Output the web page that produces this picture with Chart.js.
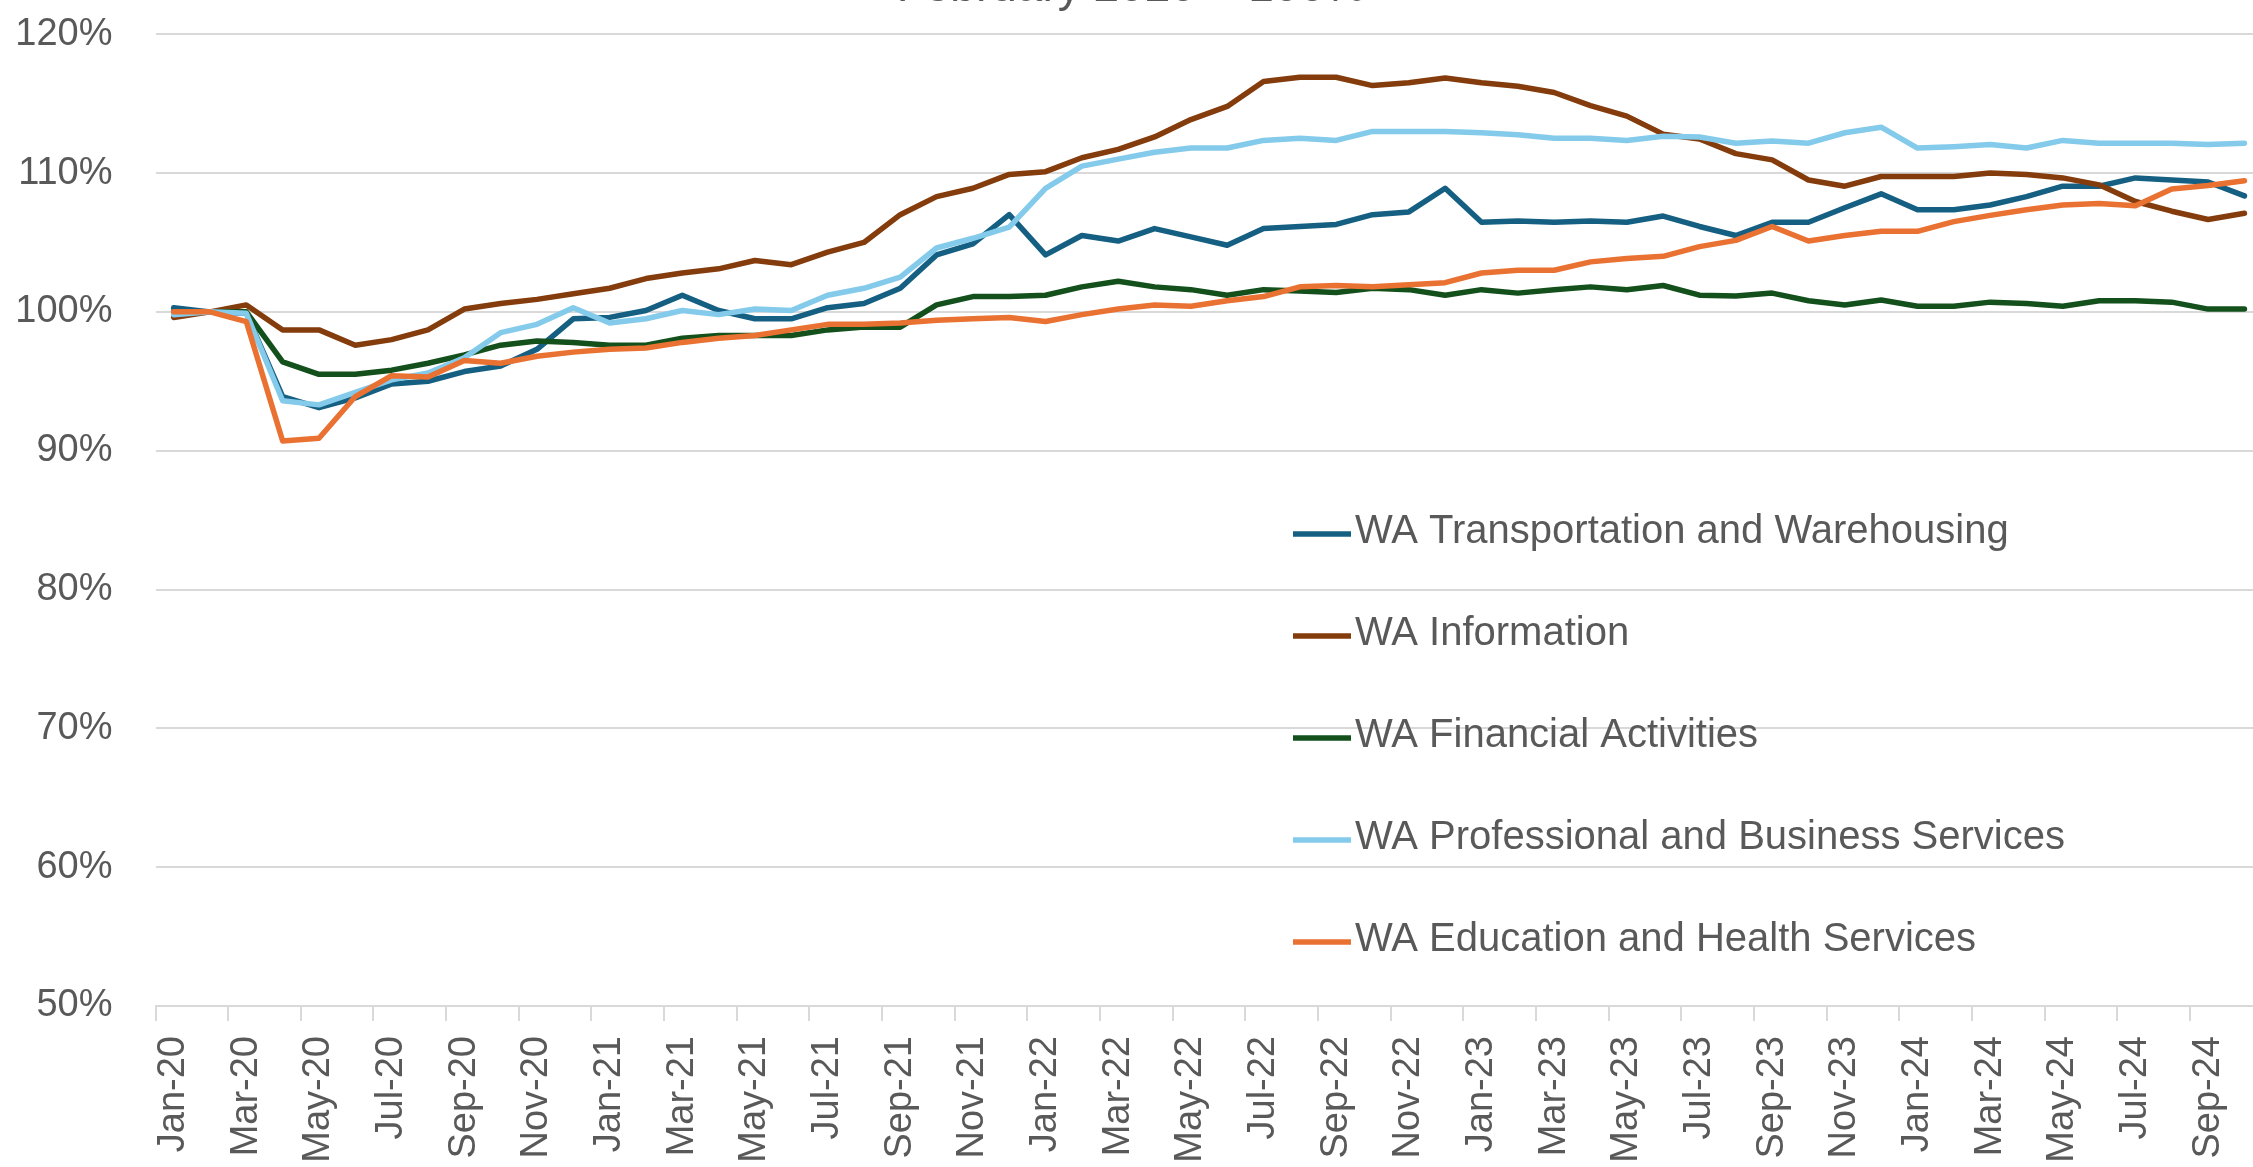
<!DOCTYPE html>
<html>
<head>
<meta charset="utf-8">
<title>WA employment by industry</title>
<script src="https://cdn.jsdelivr.net/npm/chart.js@4.4.1/dist/chart.umd.min.js"></script>
<style>
  html, body { margin: 0; padding: 0; background: #fff; overflow: hidden; }
  #wrap { position: absolute; left: 0; top: -60px; width: 2314px; height: 1227px; }
</style>
</head>
<body>
<div id="wrap"><canvas id="empChart" width="2314" height="1227"></canvas></div>
<script>
// months Jan-20 .. Oct-24, index Feb 2020 = 100%
const months = [
  'Jan-20','Feb-20','Mar-20','Apr-20','May-20','Jun-20','Jul-20','Aug-20','Sep-20','Oct-20','Nov-20','Dec-20',
  'Jan-21','Feb-21','Mar-21','Apr-21','May-21','Jun-21','Jul-21','Aug-21','Sep-21','Oct-21','Nov-21','Dec-21',
  'Jan-22','Feb-22','Mar-22','Apr-22','May-22','Jun-22','Jul-22','Aug-22','Sep-22','Oct-22','Nov-22','Dec-22',
  'Jan-23','Feb-23','Mar-23','Apr-23','May-23','Jun-23','Jul-23','Aug-23','Sep-23','Oct-23','Nov-23','Dec-23',
  'Jan-24','Feb-24','Mar-24','Apr-24','May-24','Jun-24','Jul-24','Aug-24','Sep-24','Oct-24'
];

var transportation = [
  100.3, 100.0, 99.9, 93.9, 93.1, 93.8, 94.8, 95.0, 95.7, 96.1, 97.3, 99.5,
  99.6, 100.1, 101.2, 100.1, 99.5, 99.5, 100.3, 100.6, 101.7, 104.1, 104.9, 107.0,
  104.1, 105.5, 105.1, 106.0, 105.4, 104.8, 106.0, 106.15, 106.3, 107.0, 107.2, 108.9,
  106.45, 106.55, 106.45, 106.55, 106.45, 106.9, 106.15, 105.5, 106.45, 106.45, 107.5, 108.5,
  107.35, 107.35, 107.7, 108.3, 109.05, 109.05, 109.65, 109.5, 109.35, 108.35
];
var information = [
  99.6, 100.0, 100.5, 98.7, 98.7, 97.6, 98.0, 98.7, 100.2, 100.6, 100.9, 101.3,
  101.7, 102.4, 102.8, 103.1, 103.7, 103.4, 104.3, 105.0, 107.0, 108.3, 108.9, 109.9,
  110.1, 111.1, 111.7, 112.6, 113.85, 114.8, 116.6, 116.9, 116.9, 116.3, 116.5, 116.85,
  116.5, 116.25, 115.8, 114.85, 114.1, 112.8, 112.45, 111.4, 110.95, 109.5, 109.05, 109.75,
  109.75, 109.75, 110.0, 109.9, 109.65, 109.15, 107.95, 107.25, 106.65, 107.1
];
var financial = [
  100.0, 100.0, 100.0, 96.4, 95.5, 95.5, 95.8, 96.3, 96.9, 97.6, 97.9, 97.8,
  97.6, 97.6, 98.1, 98.3, 98.3, 98.3, 98.7, 98.9, 98.9, 100.5, 101.1, 101.1,
  101.2, 101.8, 102.2, 101.8, 101.6, 101.2, 101.6, 101.5, 101.4, 101.7, 101.6, 101.2,
  101.6, 101.35, 101.6, 101.8, 101.6, 101.9, 101.2, 101.15, 101.35, 100.8, 100.5, 100.85,
  100.4, 100.4, 100.7, 100.6, 100.4, 100.8, 100.8, 100.7, 100.2, 100.2
];
var professional = [
  99.8, 100.0, 99.9, 93.6, 93.3, 94.2, 95.1, 95.6, 96.7, 98.5, 99.1, 100.3,
  99.2, 99.5, 100.1, 99.8, 100.2, 100.1, 101.2, 101.7, 102.5, 104.6, 105.3, 106.1,
  108.9, 110.5, 111.0, 111.5, 111.8, 111.8, 112.35, 112.5, 112.35, 113.0, 113.0, 113.0,
  112.9, 112.75, 112.5, 112.5, 112.35, 112.65, 112.6, 112.15, 112.3, 112.15, 112.9, 113.3,
  111.8, 111.9, 112.05, 111.8, 112.35, 112.15, 112.15, 112.15, 112.05, 112.15
];
var education = [
  100.0, 100.0, 99.3, 90.7, 90.9, 93.9, 95.4, 95.3, 96.5, 96.3, 96.8, 97.1,
  97.3, 97.4, 97.8, 98.1, 98.3, 98.7, 99.1, 99.1, 99.2, 99.4, 99.5, 99.6,
  99.3, 99.8, 100.2, 100.5, 100.4, 100.8, 101.1, 101.8, 101.9, 101.8, 101.95, 102.1,
  102.8, 103.0, 103.0, 103.6, 103.85, 104.0, 104.7, 105.15, 106.15, 105.1, 105.5, 105.8,
  105.8, 106.5, 106.95, 107.35, 107.7, 107.8, 107.65, 108.85, 109.1, 109.45
];

const seriesNames = [
  'WA Transportation and Warehousing',
  'WA Information',
  'WA Financial Activities',
  'WA Professional and Business Services',
  'WA Education and Health Services'
];
const seriesColors = ['#156082', '#843C0C', '#13501B', '#83CAEB', '#E97132'];
const seriesValues = [transportation, information, financial, professional, education];

const yTicks = [50, 60, 70, 80, 90, 100, 110, 120];

const FONT = '"Liberation Sans", Arial, sans-serif';
const GREY_TEXT = '#595959';
const GRID = '#d9d9d9';

// legend sits inside the plot, one entry per row
const insideLegend = {
  id: 'insideLegend',
  afterDraw(chart) {
    const ctx = chart.ctx;
    const x0 = 1293, lineLen = 58, gap = 4;
    const firstY = 592, rowStep = 102;
    ctx.save();
    ctx.font = '40px ' + FONT;
    ctx.textBaseline = 'middle';
    ctx.textAlign = 'left';
    chart.data.datasets.forEach((ds, i) => {
      const y = firstY + i * rowStep;
      ctx.strokeStyle = ds.borderColor;
      ctx.lineWidth = 5.5;
      ctx.lineCap = 'butt';
      ctx.beginPath();
      ctx.moveTo(x0, y + 2);
      ctx.lineTo(x0 + lineLen, y + 2);
      ctx.stroke();
      ctx.fillStyle = GREY_TEXT;
      ctx.fillText(ds.label, x0 + lineLen + gap, y);
    });
    ctx.restore();
  }
};

const datasets = seriesNames.map((name, i) => ({
  label: name,
  data: seriesValues[i],
  borderColor: seriesColors[i],
  backgroundColor: seriesColors[i],
  borderWidth: 5.5,
  borderJoinStyle: 'round',
  borderCapStyle: 'round',
  pointRadius: 0,
  tension: 0,
  order: seriesNames.length - i // later series drawn on top, like Excel
}));

var empChart = new Chart(document.getElementById('empChart').getContext('2d'), {
  type: 'line',
  data: { labels: months, datasets: datasets },
  options: {
    responsive: false,
    animation: false,
    events: [],
    layout: { padding: { left: 0, right: 51.4, top: 0, bottom: 0 } },
    plugins: {
      legend: { display: false },
      tooltip: { enabled: false },
      title: {
        display: true,
        text: 'February 2020 = 100%',
        color: GREY_TEXT,
        font: { family: FONT, size: 46, weight: 'normal' },
        padding: { top: 21, bottom: 18 }
      }
    },
    scales: {
      x: {
        offset: true,
        afterFit: (scale) => { scale.height = 161; },
        grid: {
          offset: true,
          drawOnChartArea: false,
          drawTicks: true,
          tickLength: 15,
          // a tick mark every second month boundary, as in the original
          color: (c) => (c.index % 2 === 0 ? GRID : 'rgba(0,0,0,0)'),
          lineWidth: 2
        },
        border: { display: true, color: GRID, width: 2 },
        ticks: {
          autoSkip: false,
          minRotation: 90,
          maxRotation: 90,
          padding: 15,
          color: GREY_TEXT,
          font: { family: FONT, size: 38 },
          callback: function (value, index) {
            return index % 2 === 0 ? this.getLabelForValue(value) : '';
          }
        }
      },
      y: {
        min: yTicks[0],
        max: yTicks[yTicks.length - 1],
        afterFit: (scale) => { scale.width = 155.5; },
        afterBuildTicks: (scale) => { scale.ticks = yTicks.map(v => ({ value: v })); },
        grid: { color: GRID, lineWidth: 2, drawTicks: false },
        border: { display: false },
        ticks: {
          padding: 43,
          color: GREY_TEXT,
          font: { family: FONT, size: 38 },
          callback: (v) => v + '%'
        }
      }
    }
  },
  plugins: [insideLegend]
});
</script>
</body>
</html>
